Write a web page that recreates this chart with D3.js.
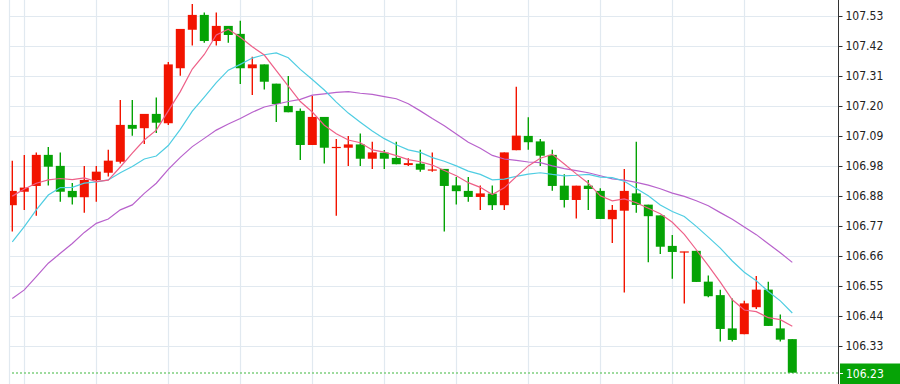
<!DOCTYPE html>
<html>
<head>
<meta charset="utf-8">
<script src="https://cdn.jsdelivr.net/npm/d3@7"></script>
<style>
  html, body { margin: 0; padding: 0; background: #fff; }
  svg { display: block; }
</style>
</head>
<body>
<script>
// candle data, one entry per bar
var opens = [106.842, 106.891, 106.912, 107.025, 106.985, 106.894, 106.871, 106.933, 106.960, 107.000,
  107.134, 107.122, 107.174, 107.140, 107.340, 107.480, 107.534, 107.439, 107.494, 107.465,
  107.340, 107.354, 107.284, 107.203, 107.185, 107.061, 107.163, 107.052, 107.051, 107.063,
  107.011, 107.033, 107.014, 106.988, 106.993, 106.971, 106.974, 106.914, 106.894, 106.872,
  106.884, 106.842, 107.042, 107.094, 107.074, 107.025, 106.913, 106.861, 106.913, 106.894,
  106.791, 106.822, 106.885, 106.844, 106.805, 106.694, 106.672, 106.676, 106.564, 106.515,
  106.394, 106.373, 106.471, 106.535, 106.394, 106.355]
var highs = [107.004, 107.025, 107.034, 107.054, 107.034, 106.923, 106.985, 106.985, 107.044, 107.225,
  107.225, 107.174, 107.234, 107.363, 107.483, 107.574, 107.543, 107.543, 107.494, 107.513,
  107.382, 107.354, 107.284, 107.312, 107.194, 107.240, 107.163, 107.083, 107.094, 107.103,
  107.073, 107.043, 107.073, 107.013, 107.044, 107.034, 106.974, 106.945, 106.945, 106.914,
  106.914, 107.034, 107.273, 107.162, 107.083, 107.044, 106.955, 106.913, 106.934, 106.904,
  106.843, 106.974, 107.073, 106.844, 106.805, 106.734, 106.673, 106.676, 106.586, 106.535,
  106.503, 106.495, 106.585, 106.564, 106.445, 106.355]
var lows = [106.746, 106.825, 106.804, 106.914, 106.855, 106.845, 106.815, 106.855, 106.946, 106.994,
  107.095, 107.065, 107.105, 107.134, 107.313, 107.423, 107.433, 107.423, 107.433, 107.283,
  107.243, 107.263, 107.145, 107.180, 107.006, 107.061, 106.994, 106.804, 106.985, 106.985,
  106.974, 106.974, 106.991, 106.985, 106.964, 106.964, 106.746, 106.845, 106.855, 106.825,
  106.825, 106.825, 107.042, 107.044, 106.985, 106.895, 106.834, 106.794, 106.825, 106.792,
  106.705, 106.525, 106.815, 106.635, 106.665, 106.575, 106.485, 106.563, 106.507, 106.346,
  106.346, 106.373, 106.465, 106.403, 106.346, 106.233]
var closes = [106.894, 106.906, 107.025, 106.982, 106.891, 106.871, 106.934, 106.964, 107.004, 107.134,
  107.120, 107.174, 107.142, 107.354, 107.483, 107.534, 107.439, 107.494, 107.461, 107.340,
  107.354, 107.291, 107.210, 107.180, 107.061, 107.163, 107.051, 107.054, 107.063, 107.011,
  107.034, 107.011, 106.991, 106.995, 106.971, 106.972, 106.912, 106.893, 106.872, 106.885,
  106.842, 107.034, 107.095, 107.071, 107.022, 106.912, 106.861, 106.913, 106.901, 106.792,
  106.825, 106.894, 106.843, 106.802, 106.691, 106.672, 106.674, 106.563, 106.511, 106.392,
  106.352, 106.485, 106.535, 106.403, 106.353, 106.233]

// moving averages as drawn (pink, cyan, purple)
var ma5 = [106.875, 106.901, 106.922, 106.934, 106.939, 106.935, 106.941, 106.928, 106.933, 106.981,
  107.031, 107.079, 107.115, 107.185, 107.255, 107.337, 107.390, 107.461, 107.482, 107.453,
  107.418, 107.388, 107.331, 107.275, 107.219, 107.181, 107.133, 107.102, 107.079, 107.069,
  107.043, 107.035, 107.022, 107.008, 107.000, 106.988, 106.968, 106.949, 106.924, 106.907,
  106.881, 106.905, 106.946, 106.985, 107.013, 107.027, 106.992, 106.956, 106.922, 106.876,
  106.858, 106.865, 106.851, 106.831, 106.811, 106.780, 106.736, 106.680, 106.622, 106.562,
  106.498, 106.461, 106.455, 106.433, 106.426, 106.402]
var ma10 = [106.709, 106.764, 106.825, 106.879, 106.906, 106.907, 106.922, 106.927, 106.934, 106.960,
  106.983, 107.010, 107.021, 107.059, 107.118, 107.184, 107.235, 107.288, 107.333, 107.354,
  107.377, 107.389, 107.396, 107.378, 107.336, 107.299, 107.261, 107.217, 107.177, 107.144,
  107.112, 107.084, 107.062, 107.043, 107.034, 107.015, 107.002, 106.985, 106.966, 106.954,
  106.934, 106.937, 106.947, 106.955, 106.960, 106.954, 106.949, 106.951, 106.954, 106.944,
  106.942, 106.929, 106.903, 106.876, 106.843, 106.819, 106.801, 106.765, 106.726, 106.686,
  106.639, 106.598, 106.567, 106.528, 106.494, 106.450]
var ma20 = [106.503, 106.534, 106.582, 106.631, 106.667, 106.703, 106.743, 106.776, 106.792, 106.825,
  106.843, 106.885, 106.922, 106.972, 107.016, 107.055, 107.085, 107.115, 107.137, 107.157,
  107.180, 107.199, 107.209, 107.219, 107.227, 107.242, 107.247, 107.252, 107.255, 107.249,
  107.245, 107.237, 107.229, 107.211, 107.185, 107.157, 107.131, 107.101, 107.071, 107.049,
  107.023, 107.010, 107.005, 106.999, 106.997, 106.985, 106.975, 106.968, 106.960, 106.949,
  106.938, 106.933, 106.925, 106.915, 106.902, 106.886, 106.874, 106.858, 106.840, 106.815,
  106.791, 106.763, 106.735, 106.702, 106.669, 106.634]

// price axis
var yTickValues = [107.53, 107.4209, 107.3118, 107.2027, 107.0936, 106.9845, 106.8755, 106.7664, 106.6573, 106.5482, 106.4391, 106.33]
var yTickLabels = ["107.53", "107.42", "107.31", "107.20", "107.09", "106.98", "106.88", "106.77", "106.66", "106.55", "106.44", "106.33"]
var lastPrice = 106.23
var lastLabel = "106.23"

// bars that carry a vertical grid line
var gridBars = [1, 7, 13, 19, 25, 31, 37, 43, 49, 55, 61]

var w = 900
var h = 384
var left = 10
var axisX = 838

var upColor = "#f21400"
var downColor = "#05a305"
var gridColor = "#e1e9f0"

var svg = d3.select("body")
  .append("svg")
  .attr("width", w)
  .attr("height", h)

var x = d3.scaleLinear()
  .domain([0, closes.length - 1])
  .range([12.3, 792.3])
var y = d3.scaleLinear()
  .domain([106.33, 107.53])
  .range([346, 16])

svg.append("defs").append("clipPath")
  .attr("id", "plot")
  .append("rect")
  .attr("x", left)
  .attr("y", 0)
  .attr("width", axisX - left)
  .attr("height", h)

// grid
svg.append("g")
  .selectAll("line")
  .data(yTickValues)
  .enter()
  .append("line")
  .attr("x1", left)
  .attr("x2", axisX)
  .attr("y1", function(d) { return Math.round(y(d)) + 0.5 })
  .attr("y2", function(d) { return Math.round(y(d)) + 0.5 })
  .attr("stroke", gridColor)
  .attr("stroke-width", 1.2)

svg.append("g")
  .selectAll("line")
  .data(gridBars)
  .enter()
  .append("line")
  .attr("x1", function(d) { return Math.round(x(d)) + 0.5 })
  .attr("x2", function(d) { return Math.round(x(d)) + 0.5 })
  .attr("y1", 0)
  .attr("y2", h)
  .attr("stroke", gridColor)
  .attr("stroke-width", 1.2)

svg.append("line")
  .attr("x1", left - 0.5).attr("x2", left - 0.5)
  .attr("y1", 0).attr("y2", h)
  .attr("stroke", gridColor)
  .attr("stroke-width", 1.2)

var plot = svg.append("g").attr("clip-path", "url(#plot)")

// last price dotted line
plot.append("line")
  .attr("x1", 0)
  .attr("x2", axisX)
  .attr("y1", y(lastPrice) - 0.5)
  .attr("y2", y(lastPrice) - 0.5)
  .attr("stroke", "#7fcf7f")
  .attr("stroke-width", 1.5)
  .attr("stroke-dasharray", "2,2")

// candles
var bars = d3.range(closes.length)
function colorOf(i) { return closes[i] >= opens[i] ? upColor : downColor }

plot.append("g")
  .selectAll("line")
  .data(bars)
  .enter()
  .append("line")
  .attr("x1", function(i) { return x(i) })
  .attr("x2", function(i) { return x(i) })
  .attr("y1", function(i) { return y(highs[i]) })
  .attr("y2", function(i) { return y(lows[i]) })
  .attr("stroke", colorOf)
  .attr("stroke-width", 1.4)

plot.append("g")
  .selectAll("rect")
  .data(bars)
  .enter()
  .append("rect")
  .attr("x", function(i) { return x(i) - 4.5 })
  .attr("width", 9)
  .attr("y", function(i) { return y(Math.max(opens[i], closes[i])) })
  .attr("height", function(i) { return Math.max(1.2, Math.abs(y(opens[i]) - y(closes[i]))) })
  .attr("fill", colorOf)

// moving averages
var line = d3.line()
  .x(function(d, i) { return x(i) })
  .y(function(d) { return y(d) })

var maSeries = [[ma20, "#b862cc"], [ma10, "#4fcde2"], [ma5, "#ee6088"]]
maSeries.forEach(function(s) {
  plot.append("path")
    .datum(s[0])
    .attr("d", line)
    .attr("fill", "none")
    .attr("stroke", s[1])
    .attr("stroke-width", 1.2)
})

// right axis
svg.append("line")
  .attr("x1", axisX + 0.5).attr("x2", axisX + 0.5)
  .attr("y1", 0).attr("y2", h)
  .attr("stroke", "#333")
  .attr("stroke-width", 1)

var axis = d3.axisRight(y)
  .tickValues(yTickValues)
  .tickSize(4)
  .tickPadding(3)
  .tickFormat(function(d, i) { return yTickLabels[i] })

var gAxis = svg.append("g")
  .attr("transform", "translate(" + (axisX + 0.5) + ",0)")
  .call(axis)
gAxis.select(".domain").remove()
gAxis.selectAll("line").attr("stroke", "#333")
gAxis.selectAll("text")
  .attr("fill", "#222")
  .style("font-family", "'DejaVu Sans Condensed', 'DejaVu Sans', sans-serif")
  .style("font-size", "12px")

// last price tag
var ly = y(lastPrice)
svg.append("rect")
  .attr("x", axisX + 2)
  .attr("y", ly - 10)
  .attr("width", w - axisX - 2)
  .attr("height", 20.5)
  .attr("fill", "#06a306")
svg.append("line")
  .attr("x1", axisX + 1).attr("x2", axisX + 5)
  .attr("y1", ly).attr("y2", ly)
  .attr("stroke", "#fff")
svg.append("text")
  .attr("x", axisX + 8)
  .attr("y", ly)
  .attr("dy", "0.36em")
  .attr("fill", "#fff")
  .style("font-family", "'DejaVu Sans Condensed', 'DejaVu Sans', sans-serif")
  .style("font-size", "12px")
  .text(lastLabel)
</script>
</body>
</html>
